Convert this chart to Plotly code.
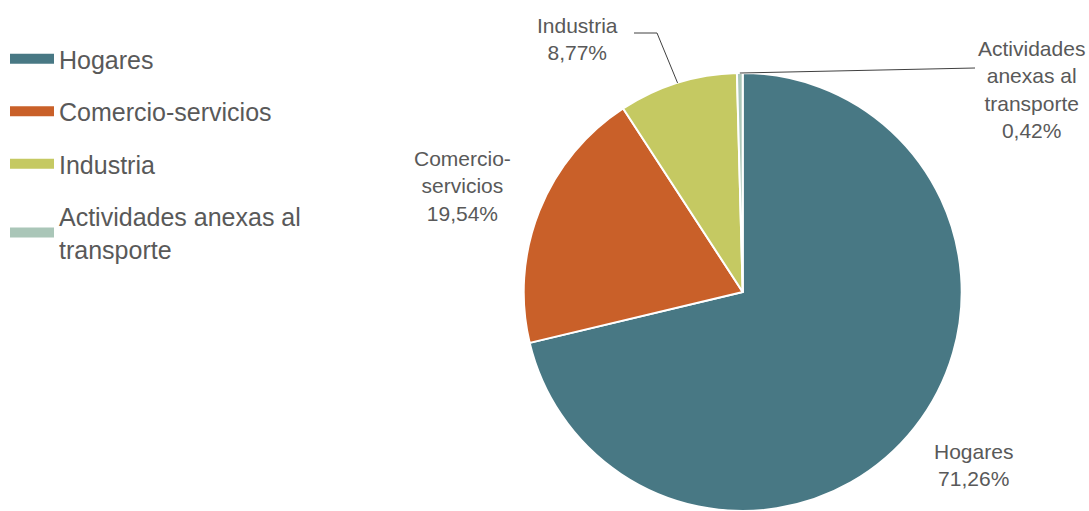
import math
import plotly.graph_objects as go

# ---- data ----
categories = ["Hogares", "Comercio-servicios", "Industria", "Actividades anexas al transporte"]
values = [71.26, 19.54, 8.77, 0.42]
legend_labels = ["Hogares", "Comercio-servicios", "Industria", "Actividades anexas al<br>transporte"]
slice_labels = ["Hogares", "Comercio-<br>servicios", "Industria", "Actividades<br>anexas al<br>transporte"]
colors = ["#487884", "#C96029", "#C5C962", "#AAC6B8"]

# ---- layout constants (pixels) ----
W, H = 1089, 511
T, B, L, R = 73, 0, 0, 0
plot_w = W - L - R
plot_h = H - T - B
dom_x = [0.47, 0.894]
dom_y = [0.0, 1.0]
label_pos = [(973, 465), (462, 186), (577, 39), (1031, 90)]   # label centres
leader_paths = {2: [(657, 33), (634, 33)], 3: [(975, 68)]}    # leader line bends / ends

text_color = "#595959"
font_family = "Arial, Liberation Sans, sans-serif"
label_size = 21

fig = go.Figure()

# legend entries (one group per category so the legend rows can be spaced out)
for i, (name, col) in enumerate(zip(legend_labels, colors)):
    fig.add_trace(go.Scatter(
        x=[None], y=[None], mode="lines", name=name,
        line=dict(color=col, width=23),
        legendgroup=f"g{i}", showlegend=True, hoverinfo="skip",
    ))

fig.add_trace(go.Pie(
    labels=categories,
    values=values,
    sort=False,
    direction="clockwise",
    rotation=0,
    marker=dict(colors=colors, line=dict(color="white", width=2)),
    textinfo="none",
    domain=dict(x=dom_x, y=dom_y),
    hoverinfo="label+value",
    showlegend=False,
))

# pie geometry (as plotly computes it) to anchor leader lines on slice midpoints
box_w = plot_w * (dom_x[1] - dom_x[0])
box_h = plot_h * (dom_y[1] - dom_y[0])
r = min(box_w, box_h) / 2
cx = L + plot_w * (dom_x[0] + dom_x[1]) / 2
cy = T + plot_h * (1 - dom_y[0]) - box_h / 2
total = sum(values)

def mid_point(i):
    start = sum(values[:i]) / total
    mid = (start + values[i] / total / 2) * 2 * math.pi
    return cx + r * math.sin(mid), cy - r * math.cos(mid)

def to_paper(px, py):
    return (px - L) / plot_w, 1 - (py - T) / plot_h

# slice labels
for i, (lab, val) in enumerate(zip(slice_labels, values)):
    px, py = label_pos[i]
    x, y = to_paper(px, py)
    fig.add_annotation(xref="paper", yref="paper", x=x, y=y, showarrow=False,
                       text=f"{lab}<br>{val:.2f}%".replace(".", ","),
                       font=dict(size=label_size, color=text_color, family=font_family),
                       xanchor="center", yanchor="middle", align="center")

# leader lines for the two small slices
for i, pts in leader_paths.items():
    tip = to_paper(*mid_point(i))
    path = f"M{tip[0]},{tip[1]}"
    for p in pts:
        q = to_paper(*p)
        path += f" L{q[0]},{q[1]}"
    fig.add_shape(type="path", xref="paper", yref="paper", path=path,
                  line=dict(color="#404040", width=1))

fig.update_layout(
    width=W, height=H,
    margin=dict(l=L, r=R, t=T, b=B, autoexpand=False),
    paper_bgcolor="white",
    plot_bgcolor="white",
    separators=",.",
    font=dict(family=font_family, color=text_color),
    xaxis=dict(visible=False),
    yaxis=dict(visible=False),
    legend=dict(
        x=5 / plot_w, y=1 - (36 - T) / plot_h, xanchor="left", yanchor="top",
        font=dict(size=25, color=text_color, family=font_family),
        traceorder="grouped", tracegroupgap=17, itemwidth=44,
    ),
)

fig.write_html("out.html",
               config={"displayModeBar": False},
               post_script="document.body.style.margin='0px';document.body.style.overflow='hidden';")
